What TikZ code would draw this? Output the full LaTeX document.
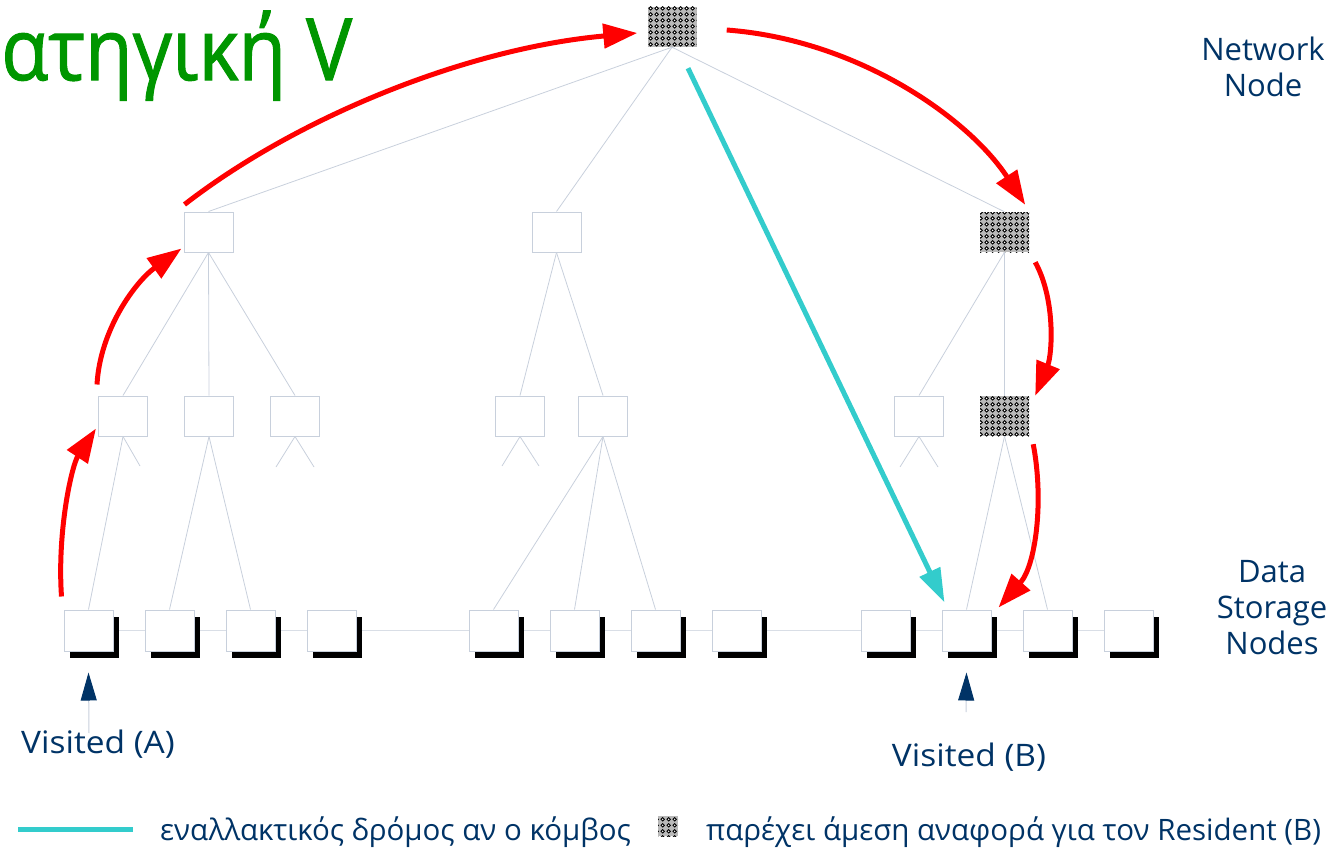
\documentclass[tikz,border=0pt]{standalone}
\usepackage{fontspec}
\setmainfont{Open Sans}
\newfontfamily\titlefont{Open Sans}[FakeBold=1.3]
\usetikzlibrary{arrows.meta,patterns,shadows,backgrounds,calc}
\definecolor{navy}{RGB}{0,51,102}
\definecolor{ttgreen}{RGB}{0,150,0}
\definecolor{boxgray}{RGB}{200,208,220}
\definecolor{altcyan}{RGB}{51,204,204}
\definecolor{arred}{RGB}{255,0,0}
\pgfdeclarepatternformonly{blkdiam}{\pgfqpoint{0pt}{0pt}}{\pgfqpoint{6pt}{6pt}}{\pgfqpoint{6pt}{6pt}}{%
  \pgfpathmoveto{\pgfqpoint{3pt}{0.4pt}}\pgfpathlineto{\pgfqpoint{5.6pt}{3pt}}%
  \pgfpathlineto{\pgfqpoint{3pt}{5.6pt}}\pgfpathlineto{\pgfqpoint{0.4pt}{3pt}}\pgfpathclose\pgfusepath{fill}}
\pgfdeclarepatternformonly{whtdots}{\pgfqpoint{0pt}{0pt}}{\pgfqpoint{6pt}{6pt}}{\pgfqpoint{6pt}{6pt}}{%
  \pgfpathcircle{\pgfqpoint{3pt}{3pt}}{0.9pt}\pgfusepath{fill}}
\begin{document}
\begin{tikzpicture}[x=1pt,y=-1pt,
  treebox/.style={draw=boxgray,line width=1pt,fill=white,minimum width=49pt,minimum height=40pt,inner sep=0pt},
  hatched/.style={draw=none,preaction={fill=gray!55},preaction={pattern=blkdiam,pattern color=black},
     pattern=whtdots,pattern color=white,minimum width=49pt,minimum height=40pt,inner sep=0pt},
  databox/.style={draw=boxgray,line width=1pt,fill=white,minimum width=49pt,minimum height=41pt,inner sep=0pt,
     drop shadow={shadow xshift=6pt,shadow yshift=-7pt,fill=black,opacity=1}},
  treeline/.style={draw=boxgray,line width=0.8pt},
  redarrow/.style={draw=arred,line width=5pt,-{Triangle[length=34pt,width=24pt]}},
  cyanarrow/.style={draw=altcyan,line width=5pt,-{Triangle[length=34pt,width=22pt]}},
  visarrow/.style={draw=boxgray,line width=1pt,-{Triangle[length=28pt,width=16pt,color=navy,fill=navy]}},
  lbl/.style={text=navy,font=\fontsize{31}{36}\selectfont,align=center,inner sep=0pt},
  vislbl/.style={text=navy,font=\fontsize{31}{36}\selectfont,inner sep=0pt,xscale=1.08},
  legtext/.style={text=navy,font=\fontsize{29.5}{34}\selectfont,anchor=west,inner sep=0pt}]
\useasboundingbox (0,0) rectangle (1337,851);
\clip (0,0) rectangle (1337,851);

% title
\node[anchor=base west,text=ttgreen,font=\titlefont\fontsize{86}{100}\selectfont,inner sep=0pt,xscale=0.9] (title) at (1,80) {ατηγική V};

% tree nodes
\node[hatched] (nn) at (672,27) {};
\node[treebox] (a1) at (208.5,232) {};
\node[treebox] (a2) at (556.5,232) {};
\node[hatched] (a3) at (1004.5,232) {};
\node[treebox] (b1) at (123,416) {};
\node[treebox] (b2) at (209,416) {};
\node[treebox] (b3) at (295,416) {};
\node[treebox] (b4) at (520,416) {};
\node[treebox] (b5) at (603,416) {};
\node[treebox] (b6) at (919,416) {};
\node[hatched] (b7) at (1004.5,416) {};

% data storage nodes
\foreach \i/\x in {1/88.5,2/169.5,3/250.5,4/331.5,5/493.5,6/574.5,7/655.5,8/736.5,9/885.5,10/966.5,11/1047.5,12/1128.5}
  \node[databox] (d\i) at (\x,630.5) {};

\begin{scope}[on background layer]
  \draw[treeline,draw=boxgray!70] (d1.center) -- (d12.center);
\end{scope}

% stubs
\coordinate (s1) at (140,466);
\coordinate (s2) at (276,467);
\coordinate (s3) at (314,467);
\coordinate (s4) at (502,466);
\coordinate (s5) at (539,466);
\coordinate (s6) at (900,467);
\coordinate (s7) at (938,467);

% tree lines
\draw[treeline] (nn.south) -- (a1.north);
\draw[treeline] (nn.south) -- (a2.north);
\draw[treeline] (nn.south) -- (a3.north);
\draw[treeline] (a1.south) -- (b1.north);
\draw[treeline] (a1.south) -- (b2.north);
\draw[treeline] (a1.south) -- (b3.north);
\draw[treeline] (a2.south) -- (b4.north);
\draw[treeline] (a2.south) -- (b5.north);
\draw[treeline] (a3.south) -- (b6.north);
\draw[treeline] (a3.south) -- (b7.north);
\draw[treeline] (b1.south) -- (d1.north);
\draw[treeline] (b1.south) -- (s1);
\draw[treeline] (b2.south) -- (d2.north);
\draw[treeline] (b2.south) -- (d3.north);
\draw[treeline] (b3.south) -- (s2);
\draw[treeline] (b3.south) -- (s3);
\draw[treeline] (b4.south) -- (s4);
\draw[treeline] (b4.south) -- (s5);
\draw[treeline] (b5.south) -- (d5.north);
\draw[treeline] (b5.south) -- (d6.north);
\draw[treeline] (b5.south) -- (d7.north);
\draw[treeline] (b6.south) -- (s6);
\draw[treeline] (b6.south) -- (s7);
\draw[treeline] (b7.south) -- (d10.north);
\draw[treeline] (b7.south) -- (d11.north);

% red path
\draw[redarrow] ($(d1.north west)+(-2,-13)$) .. controls (57,530) and (72,465) .. ($(b1.south west)+(-2,-8)$);
\draw[redarrow] ($(b1.north west)+(-1,-11)$) .. controls (100,330) and (135,282) .. ($(a1.south west)+(-2,-4)$);
\draw[redarrow] ($(a1.north west)+(1,-7)$) .. controls (300,115) and (470,48) .. ($(nn.west)+(-10,6)$);
\draw[redarrow] ($(nn.east)+(30,3)$) .. controls (860,40) and (970,120) .. ($(a3.north east)+(-4,-7)$);
\draw[redarrow] ($(a3.south east)+(6,10)$) .. controls (1056,300) and (1052,355) .. ($(b7.north east)+(6,-0)$);
\draw[redarrow] ($(b7.south east)+(4,8)$) .. controls (1044,500) and (1036,565) .. ($(d10.north east)+(7,-2)$);

% cyan alternative path
\draw[cyanarrow] ($(nn.south)+(16,21)$) -- ($(d10.north west)+(3,-7)$);

% visited markers
\coordinate (va) at (89,733);
\coordinate (vb) at (966,712);
\draw[visarrow] (va) -- ($(d1.south)+(0,21)$);
\draw[visarrow] (vb) -- ($(d10.south)+(0,21)$);
\node[vislbl] (vatext) at (98,744) {Visited (A)};
\node[vislbl] (vbtext) at (969,757) {Visited (B)};

% side labels
\node[lbl] (netlbl) at (1263,67) {Network\\Node};
\node[lbl] (datalbl) at (1272,608) {Data\\Storage\\Nodes};

% legend
\coordinate (lg1) at (18,829);
\coordinate (lg2) at (133,829);
\draw[draw=altcyan,line width=5pt] (lg1) -- (lg2);
\node[legtext] (leg1) at (160,832) {εναλλακτικός δρόμος αν ο κόμβος};
\node[hatched,minimum width=20pt,minimum height=20pt] (legbox) at (668,826) {};
\node[legtext] (leg2) at (706,832) {παρέχει άμεση αναφορά για τον Resident (B)};
\end{tikzpicture}
\end{document}
